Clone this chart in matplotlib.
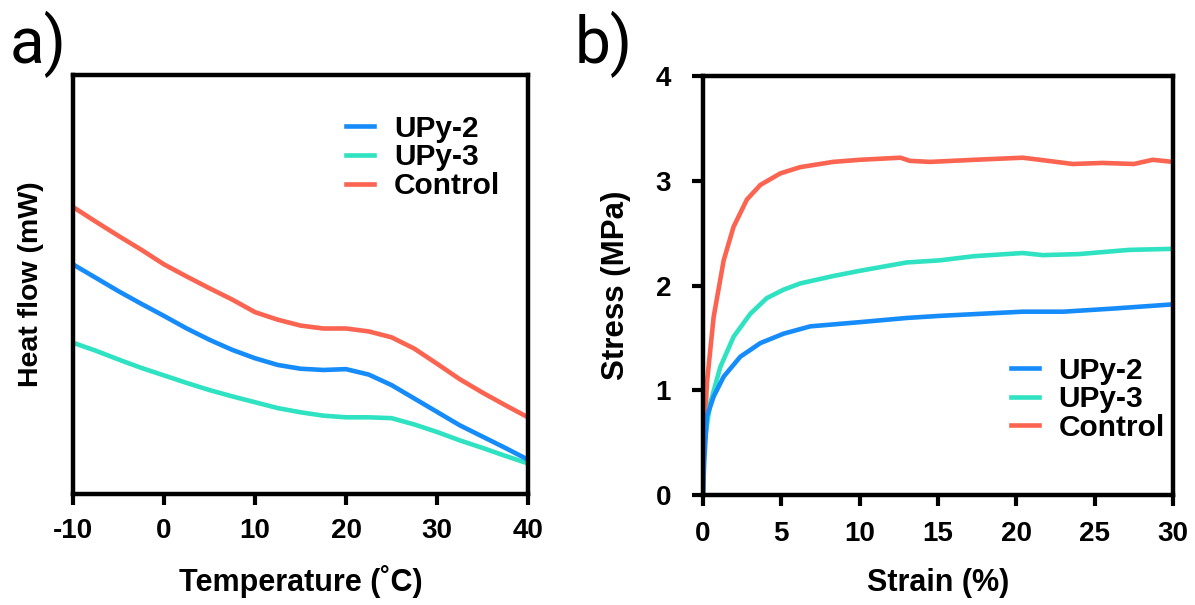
import matplotlib
matplotlib.use("Agg")
import matplotlib.pyplot as plt

# colores de las curvas
c_upy2 = "#168CFA"
c_upy3 = "#2EE2C2"
c_ctrl = "#FA6450"

# a) DSC, flujo de calor en unidades arbitrarias
temp = [-10, -7.5, -5, -2.5, 0, 2.5, 5, 7.5, 10, 12.5, 15, 17.5, 20, 22.5, 25, 27.5, 30, 32.5, 35, 37.5, 40]
hf_upy2 = [5.48, 5.16, 4.84, 4.54, 4.25, 3.95, 3.68, 3.44, 3.24, 3.08, 2.99, 2.96, 2.98, 2.85, 2.60, 2.28,
           1.96, 1.64, 1.37, 1.10, 0.82]
hf_upy3 = [3.61, 3.42, 3.21, 3.01, 2.83, 2.65, 2.48, 2.33, 2.19, 2.05, 1.95, 1.87, 1.83, 1.83, 1.81, 1.66,
           1.48, 1.28, 1.10, 0.91, 0.73]
hf_ctrl = [6.85, 6.50, 6.16, 5.83, 5.48, 5.19, 4.91, 4.64, 4.34, 4.16, 4.02, 3.95, 3.95, 3.88, 3.74, 3.47,
           3.11, 2.74, 2.42, 2.12, 1.83]
temp_ticks = [-10, 0, 10, 20, 30, 40]

# b) ensayo de traccion
strain_upy2 = [0, 0.08, 0.25, 0.68, 1.32, 2.38, 3.66, 5.14, 6.85, 10.0, 13.0, 15.1, 20.4, 23.0, 26.2, 30.0]
stress_upy2 = [0, 0.33, 0.75, 0.94, 1.13, 1.32, 1.45, 1.54, 1.61, 1.65, 1.69, 1.71, 1.75, 1.75, 1.78, 1.82]
strain_upy3 = [0, 0.08, 0.47, 1.1, 1.95, 3.02, 4.08, 5.14, 6.21, 8.3, 10.0, 13.0, 15.1, 17.3, 20.4, 21.7,
               24.0, 27.2, 30.0]
stress_upy3 = [0, 0.5, 0.88, 1.22, 1.51, 1.73, 1.88, 1.96, 2.02, 2.09, 2.14, 2.22, 2.24, 2.28, 2.31, 2.29,
               2.30, 2.34, 2.35]
strain_ctrl = [0, 0.04, 0.25, 0.68, 1.32, 1.95, 2.8, 3.66, 4.93, 6.21, 8.3, 10.0, 12.6, 13.2, 14.5, 17.3,
               20.4, 21.5, 23.6, 25.5, 27.5, 28.7, 30.0]
stress_ctrl = [0, 0.43, 1.07, 1.70, 2.24, 2.56, 2.82, 2.96, 3.07, 3.13, 3.18, 3.20, 3.22, 3.19, 3.18, 3.20,
               3.22, 3.20, 3.16, 3.17, 3.16, 3.20, 3.18]
strain_ticks = [0, 5, 10, 15, 20, 25, 30]
stress_ticks = [0, 1, 2, 3, 4]

labels = ["UPy-2", "UPy-3", "Control"]

plt.rcParams['font.family'] = ['Liberation Sans', 'DejaVu Sans']
plt.rcParams['font.weight'] = 'bold'
plt.rcParams['axes.unicode_minus'] = False
plt.rcParams['lines.solid_joinstyle'] = 'round'

FS = 20
LW = 3.3

fig = plt.figure(figsize=(11.95, 6.05), dpi=100)
ax1 = fig.add_axes([73 / 1195, 111 / 605, 455 / 1195, 419 / 605])
ax2 = fig.add_axes([703 / 1195, 110 / 605, 470 / 1195, 419 / 605])


def estilo(ax):
    for s in ax.spines.values():
        s.set_linewidth(3.2)
    ax.tick_params(width=3.0, length=8, labelsize=FS, direction='out')


# panel a
l3, = ax1.plot(temp, hf_ctrl, color=c_ctrl, lw=LW)
l2, = ax1.plot(temp, hf_upy3, color=c_upy3, lw=LW)
l1, = ax1.plot(temp, hf_upy2, color=c_upy2, lw=LW)
ax1.set_xlim(-10, 40)
ax1.set_ylim(0, 10)
ax1.set_xticks(temp_ticks)
ax1.set_xticklabels([str(t) for t in temp_ticks])
ax1.set_yticks([])
estilo(ax1)
ax1.tick_params(axis='x', pad=9)
ax1.set_xlabel("Temperature (˚C)", fontsize=22, fontweight='bold')
ax1.xaxis.set_label_coords(0.5, -0.17)
ax1.set_ylabel("Heat flow (mW)", fontsize=20.5, fontweight='bold')
ax1.yaxis.set_label_coords(-0.064, 0.5)
ax1.legend([l1, l2, l3], labels, loc='upper left', bbox_to_anchor=(0.60, 0.905), frameon=False,
           fontsize=21.5, handlelength=0.95, handletextpad=0.65, labelspacing=0.02,
           borderpad=0, borderaxespad=0)

# panel b
m3, = ax2.plot(strain_ctrl, stress_ctrl, color=c_ctrl, lw=LW)
m2, = ax2.plot(strain_upy3, stress_upy3, color=c_upy3, lw=LW)
m1, = ax2.plot(strain_upy2, stress_upy2, color=c_upy2, lw=LW)
ax2.set_xlim(0, 30)
ax2.set_ylim(0, 4)
ax2.set_xticks(strain_ticks)
ax2.set_yticks(stress_ticks)
estilo(ax2)
ax2.tick_params(axis='x', pad=11)
ax2.tick_params(axis='y', pad=15)
ax2.set_xlabel("Strain (%)", fontsize=22, fontweight='bold')
ax2.xaxis.set_label_coords(0.5, -0.175)
ax2.set_ylabel("Stress (MPa)", fontsize=22.5, fontweight='bold')
ax2.yaxis.set_label_coords(-0.153, 0.5)
ax2.legend([m1, m2, m3], labels, loc='upper left', bbox_to_anchor=(0.655, 0.33), frameon=False,
           fontsize=21.5, handlelength=0.95, handletextpad=0.65, labelspacing=0.02,
           borderpad=0, borderaxespad=0)

# letras de los paneles
fig.text(10 / 1195, 1 - 63 / 605, "a)", fontsize=46, family=['Roboto', 'DejaVu Sans'],
         fontweight='normal', va='baseline')
fig.text(575 / 1195, 1 - 63 / 605, "b)", fontsize=46, family=['Roboto', 'DejaVu Sans'],
         fontweight='normal', va='baseline')

fig.savefig("out.png", dpi=100)
